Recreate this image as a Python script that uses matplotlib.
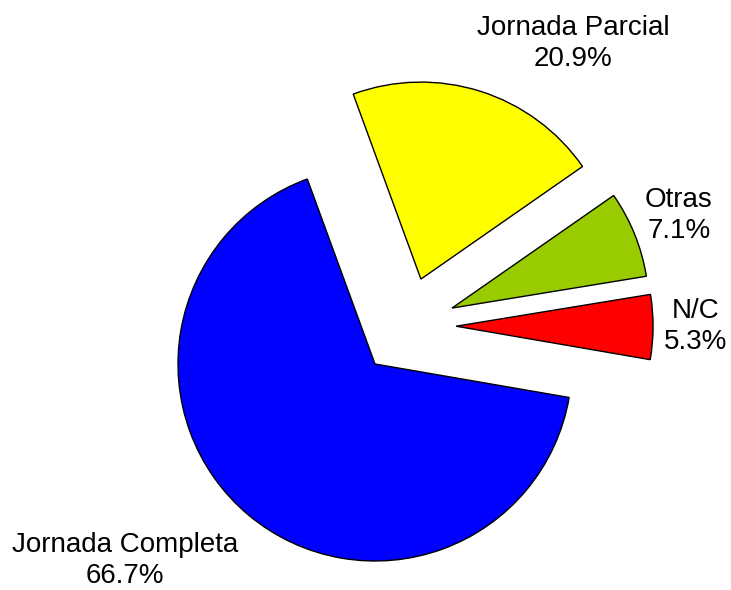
import matplotlib.pyplot as plt
import numpy as np

# Datos
categorias = ['Jornada Completa', 'N/C', 'Otras', 'Jornada Parcial']
porcentajes = [66.7, 5.3, 7.1, 20.9]
colores = ['#0000FF', '#FF0000', '#99CC00', '#FFFF00']

# Desplazamiento de las porciones (distancia, direccion en grados)
desplazamiento = [0.0, 0.454, 0.483, 0.49]
direccion = [0, 25, 36, 61.6]

# Posicion de las etiquetas (radio, angulo en grados)
etiqueta_r = [1.614, 1.64, 1.716, 1.914]
etiqueta_ang = [218.2, 6.6, 26.0, 58.3]

plt.rcParams['font.family'] = ['Liberation Sans', 'DejaVu Sans']

fig = plt.figure(figsize=(7.31, 5.90), dpi=100)
ax = fig.add_axes([0, 0, 1, 1])

wedges, _ = ax.pie(porcentajes, colors=colores, startangle=110.1,
                   counterclock=True, radius=1,
                   wedgeprops=dict(edgecolor='black', linewidth=1.0))

for w, d, a in zip(wedges, desplazamiento, direccion):
    t = np.deg2rad(a)
    w.set_center((d * np.cos(t), d * np.sin(t)))

for cat, p, r, a in zip(categorias, porcentajes, etiqueta_r, etiqueta_ang):
    t = np.deg2rad(a)
    ax.text(r * np.cos(t), r * np.sin(t), '%s\n%.1f%%' % (cat, p),
            ha='center', va='center', fontsize=20, linespacing=1.25)

R = 197.0
ax.set_xlim(-375 / R, (731 - 375) / R)
ax.set_ylim(-(590 - 364) / R, 364 / R)
ax.set_aspect('auto')
ax.axis('off')

fig.savefig('out.png', dpi=100)
